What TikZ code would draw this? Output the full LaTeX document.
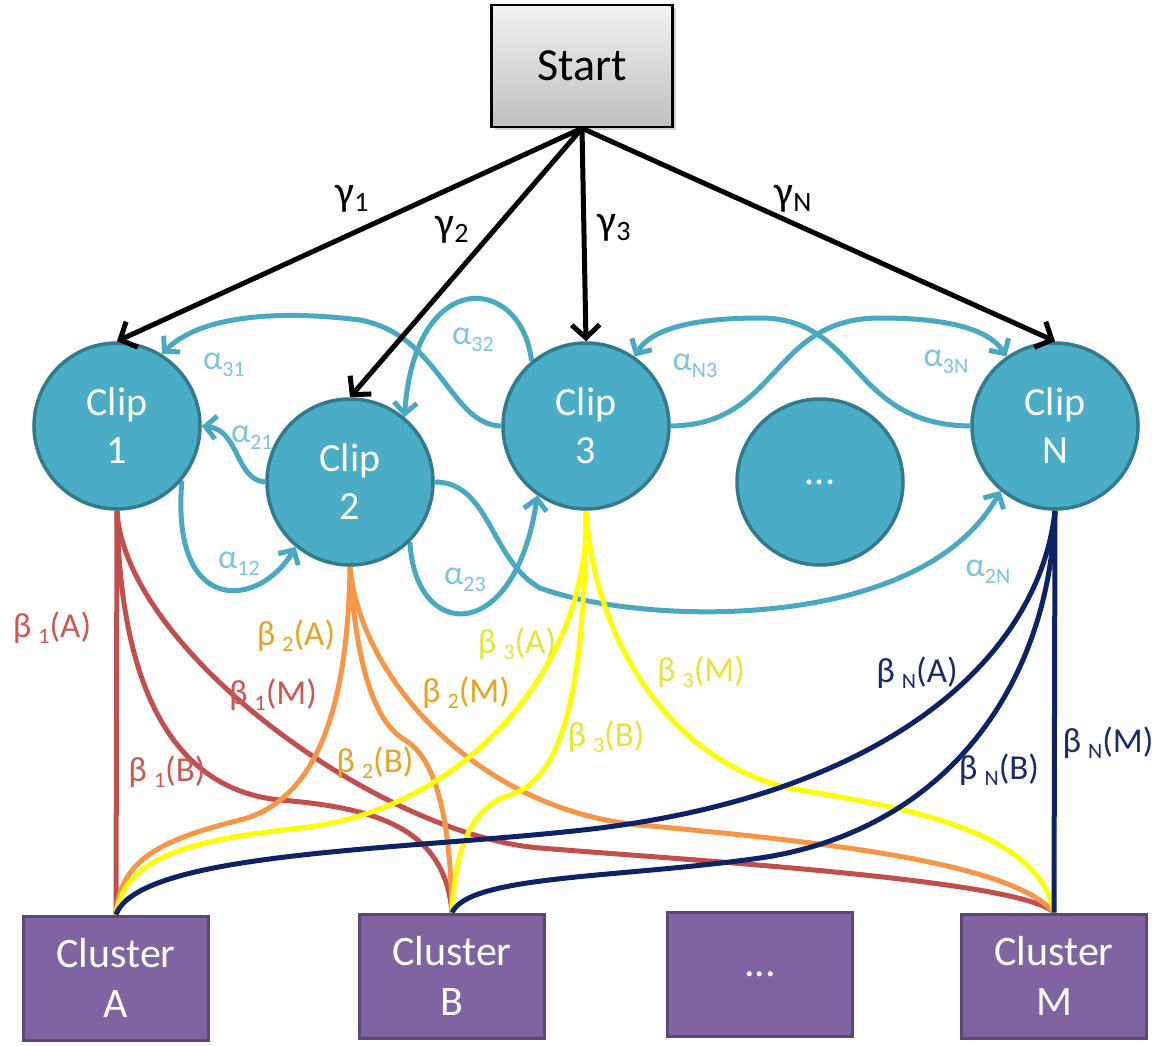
\documentclass[tikz,border=0pt]{standalone}
\usepackage{fontspec}
\setmainfont{Carlito}
\usetikzlibrary{arrows.meta,shadows}

\definecolor{clipfill}{HTML}{4BACC6}
\definecolor{clipedge}{HTML}{327A8E}
\definecolor{clusfill}{HTML}{8064A2}
\definecolor{clusedge}{HTML}{5C4776}
\definecolor{alphaline}{HTML}{4AA8C2}
\definecolor{alphatext}{HTML}{80C4DA}
\definecolor{redline}{HTML}{C0504D}
\definecolor{redtext}{HTML}{C65A57}
\definecolor{orangeline}{HTML}{F79646}
\definecolor{orangetext}{HTML}{E3A526}
\definecolor{yellowline}{HTML}{FFFF00}
\definecolor{yellowtext}{HTML}{E4E43C}
\definecolor{navyline}{HTML}{0E2266}
\definecolor{navytext}{HTML}{1C2A66}

\pgfdeclarelayer{bg}
\pgfsetlayers{bg,main}

% label glyphs with lowered indices
\newcommand\gsym[1]{γ\raisebox{-6pt}{\fontsize{28}{28}\selectfont #1}}
\newcommand\asym[1]{α\raisebox{-7pt}{\fontsize{22}{22}\selectfont #1}}
\newcommand\bsym[2]{β\kern7pt\raisebox{-6pt}{\fontsize{22}{22}\selectfont #1}(#2)}

\tikzset{
  startnode/.style={rectangle, draw=black, line width=2.5pt,
    top color=black!5, bottom color=black!25,
    minimum width=181pt, minimum height=122pt, inner sep=0pt,
    font=\fontsize{46}{52}\selectfont,
    drop shadow={shadow xshift=3pt, shadow yshift=-3pt, opacity=0.35}},
  clipnode/.style={circle, draw=clipedge, line width=3.5pt, fill=clipfill,
    minimum size=166pt, inner sep=0pt, text=white, align=center,
    font=\fontsize{40}{48}\selectfont},
  clusnode/.style={rectangle, draw=clusedge, line width=3pt, fill=clusfill,
    minimum width=185pt, minimum height=124pt, inner sep=0pt, text=white,
    align=center, font=\fontsize{42}{50}\selectfont},
  gammaarrow/.style={draw=black, line width=5pt,
    -{Straight Barb[length=13pt,width=28pt,line width=5pt]}},
  alphaarrow/.style={draw=alphaline, line width=5pt,
    -{Straight Barb[length=11pt,width=23pt,line width=5pt]}},
  redb/.style={draw=redline, line width=5pt},
  orangeb/.style={draw=orangeline, line width=5pt},
  yellowb/.style={draw=yellowline, line width=5pt},
  navyb/.style={draw=navyline, line width=5pt},
  glabel/.style={inner sep=0pt, font=\fontsize{42}{46}\selectfont, text=black},
  alabel/.style={inner sep=0pt, font=\fontsize{34}{38}\selectfont, text=alphatext},
  blabel/.style={inner sep=0pt, font=\fontsize{35}{40}\selectfont},
}

\begin{document}
\begin{tikzpicture}[x=1pt,y=-1pt]
\useasboundingbox (0,0) rectangle (1165,1046);

% nodes
\node[startnode] (start) at (582,66) {Start};
\node[clipnode] (c1) at (117,426) {Clip\\1};
\node[clipnode] (c2) at (350,482) {Clip\\2};
\node[clipnode] (c3) at (586,426) {Clip\\3};
\node[clipnode] (cd) at (820,482) {...};
\node[clipnode] (cn) at (1055,426) {Clip\\N};
\node[clusnode] (ka) at (116,978) {Cluster\\A};
\node[clusnode] (kb) at (452,976) {Cluster\\B};
\node[clusnode] (kd) at (760,974) {...};
\node[clusnode] (km) at (1054,976) {Cluster\\M};

% start probabilities
\draw[gammaarrow] (start.south) -- (c1.north);
\draw[gammaarrow] (start.south) -- (c2.north);
\draw[gammaarrow] (start.south) -- (c3.north);
\draw[gammaarrow] (start.south) -- (cn.north);
\node[glabel] (g1) at (352,199) {\gsym{1}};
\node[glabel] (g2) at (452,230) {\gsym{2}};
\node[glabel] (g3) at (614,228) {\gsym{3}};
\node[glabel] (gn) at (793,199) {\gsym{N}};

\begin{pgfonlayer}{bg}
\fill[white] (0,0) rectangle (1165,1046);
% transitions between clips
\draw[alphaarrow] (c3.west) .. controls (450,425) and (440,335) .. (360,320)
  .. controls (280,310) and (200,315) .. (c1.58);
\draw[alphaarrow] (c3.130) .. controls (522,275) and (415,265) .. (c2.50);
\draw[alphaarrow] (c2.west) .. controls (235,480) and (240,430) .. (c1.east);
\draw[alphaarrow] (c1.-40) .. controls (170,618) and (260,608) .. (c2.-130);
\draw[alphaarrow] (c2.-45) .. controls (415,642) and (515,646) .. (c3.-125);
\draw[alphaarrow] (c2.east) .. controls (490,482) and (490,560) .. (540,588)
  .. controls (640,625) and (920,635) .. (cn.-130);
\draw[alphaarrow] (c3.east) .. controls (780,425) and (770,318) .. (880,318)
  .. controls (950,318) and (990,330) .. (cn.125);
\draw[alphaarrow] (cn.west) .. controls (850,425) and (860,318) .. (760,318)
  .. controls (690,318) and (650,330) .. (c3.55);

% emissions: clip 1
\draw[redb] (c1.south) -- (ka.north);
\draw[redb] (c1.south) .. controls (120,700) and (180,790) .. (280,800)
  .. controls (380,808) and (445,830) .. (kb.north);
\draw[redb] (c1.south) .. controls (125,650) and (380,835) .. (540,848)
  .. controls (700,861) and (1020,880) .. (km.north);
% clip 2
\draw[orangeb] (c2.south) .. controls (348,700) and (320,800) .. (240,820)
  .. controls (160,840) and (120,860) .. (ka.north);
\draw[orangeb] (c2.south) .. controls (355,650) and (370,720) .. (405,740)
  .. controls (430,755) and (450,800) .. (kb.north);
\draw[orangeb] (c2.south) .. controls (360,680) and (480,810) .. (640,825)
  .. controls (800,840) and (1010,860) .. (km.north);
% clip 3
\draw[yellowb] (c3.south) .. controls (592,660) and (470,810) .. (300,828)
  .. controls (180,841) and (125,860) .. (ka.north);
\draw[yellowb] (c3.south) .. controls (585,700) and (560,780) .. (510,795)
  .. controls (470,808) and (455,850) .. (kb.north);
\draw[yellowb] (c3.south) .. controls (595,650) and (680,770) .. (800,790)
  .. controls (900,807) and (1040,830) .. (km.north);
% clip N
\draw[navyb] (cn.south) .. controls (1040,650) and (900,790) .. (600,828)
  .. controls (420,850) and (140,850) .. (ka.north);
\draw[navyb] (cn.south) .. controls (1050,680) and (950,830) .. (760,858)
  .. controls (620,878) and (470,875) .. (kb.north);
\draw[navyb] (cn.south) -- (km.north);
\end{pgfonlayer}

% transition labels
\node[alabel] (a31) at (224,365) {\asym{31}};
\node[alabel] (a21) at (252,438) {\asym{21}};
\node[alabel] (a12) at (239,564) {\asym{12}};
\node[alabel] (a32) at (473,340) {\asym{32}};
\node[alabel] (a23) at (465,580) {\asym{23}};
\node[alabel] (an3) at (695,366) {\asym{N3}};
\node[alabel] (a3n) at (946,362) {\asym{3N}};
\node[alabel] (a2n) at (988,572) {\asym{2N}};

% emission labels
\node[blabel, text=redtext] (b1a) at (52,628) {\bsym{1}{A}};
\node[blabel, text=redtext] (b1m) at (273,695) {\bsym{1}{M}};
\node[blabel, text=redtext] (b1b) at (167,772) {\bsym{1}{B}};
\node[blabel, text=orangetext] (b2a) at (296,636) {\bsym{2}{A}};
\node[blabel, text=orangetext] (b2m) at (466,693) {\bsym{2}{M}};
\node[blabel, text=orangetext] (b2b) at (375,763) {\bsym{2}{B}};
\node[blabel, text=yellowtext] (b3a) at (517,644) {\bsym{3}{A}};
\node[blabel, text=yellowtext] (b3b) at (606,737) {\bsym{3}{B}};
\node[blabel, text=yellowtext] (b3m) at (701,672) {\bsym{3}{M}};
\node[blabel, text=navytext] (bna) at (917,673) {\bsym{N}{A}};
\node[blabel, text=navytext] (bnb) at (999,770) {\bsym{N}{B}};
\node[blabel, text=navytext] (bnm) at (1108,743) {\bsym{N}{M}};
\end{tikzpicture}
\end{document}
